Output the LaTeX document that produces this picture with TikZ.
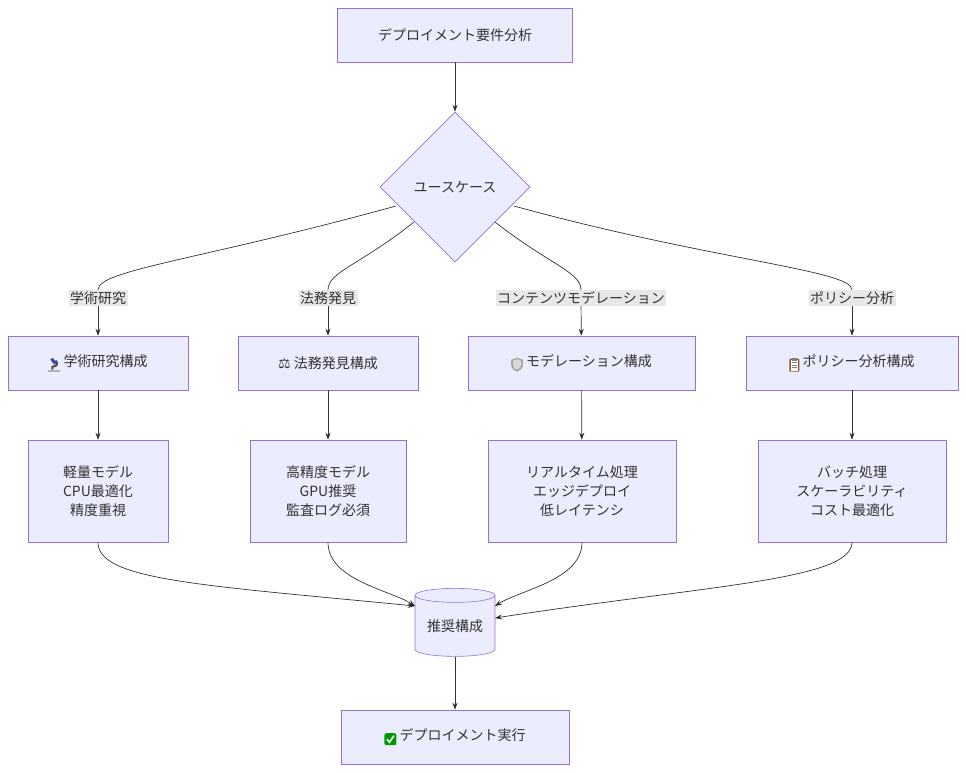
\documentclass[tikz,border=0pt]{standalone}
\usepackage{fontspec}
\setmainfont{Noto Sans CJK JP}
\newfontfamily\sym{DejaVu Sans}
\usetikzlibrary{shapes.geometric,arrows.meta}
\definecolor{nf}{HTML}{ECECFF}
\definecolor{ns}{HTML}{9370DB}
\definecolor{tx}{HTML}{333333}
\definecolor{lb}{HTML}{E8E8E8}
\newcommand{\icheck}{\tikz[baseline=-1.5pt,x=1pt,y=1pt]{\fill[green!60!black,rounded corners=2pt] (-6,-6) rectangle (6,6);\draw[white,line width=1.6pt] (-3.5,0)--(-1,-3)--(3.5,3.5);}}
\newcommand{\iclip}{\tikz[baseline=-1.5pt,x=1pt,y=1pt]{\fill[brown!70!black,rounded corners=1pt] (-5,-7) rectangle (5,6);\fill[white] (-3.8,-5.8) rectangle (3.8,4.5);\fill[gray] (-2.5,4) rectangle (2.5,7);\foreach \y in {2,-0.5,-3}\draw[gray,line width=0.6pt] (-2.5,\y)--(2.5,\y);}}
\newcommand{\ishield}{\tikz[baseline=-1.5pt,x=1pt,y=1pt]{\fill[gray!70] (-6,5)--(0,7)--(6,5)--(6,0) .. controls (6,-4) and (2,-6) .. (0,-7) .. controls (-2,-6) and (-6,-4) .. (-6,0)--cycle;\fill[gray!30] (-4,4)--(0,5.5)--(4,4)--(4,0) .. controls (4,-3) and (1.5,-4.5) .. (0,-5) .. controls (-1.5,-4.5) and (-4,-3) .. (-4,0)--cycle;}}
\newcommand{\imicro}{\tikz[baseline=-1.5pt,x=1pt,y=1pt]{\fill[gray!60] (-6,-7) rectangle (6,-5);\draw[gray!60!black,line width=2pt] (-2,-5)--(-2,-2) .. controls (3,-2) and (4,2) .. (1,4);\draw[blue!50!gray,line width=3pt] (-3,6)--(1,1);}}
\begin{document}
\begin{tikzpicture}[x=1pt,y=-1pt,font=\fontsize{14}{19}\selectfont,
 box/.style={draw=ns,fill=nf,text=tx,minimum height=54,align=center,inner sep=0,line width=0.6pt},
 det/.style={draw=ns,fill=nf,text=tx,minimum height=102,align=center,inner sep=0,line width=0.6pt},
 lab/.style={fill=lb,text=tx,inner sep=1.5},
 arr/.style={draw=tx,-{Stealth[length=7pt,width=5pt]},line width=0.7pt}]
\useasboundingbox (0,0) rectangle (966,772);
\node[box,minimum width=235] (top) at (455,35) {デプロイメント要件分析};
\node[diamond,draw=ns,fill=nf,text=tx,minimum width=150,minimum height=150,inner sep=0,line width=0.6pt] (uc) at (455,187) {ユースケース};
\node[box,minimum width=180] (c1) at (98,363) {\imicro\ 学術研究構成};
\node[box,minimum width=180] (c2) at (328,363) {{\sym ⚖} 法務発見構成};
\node[box,minimum width=227] (c3) at (581.5,363) {\ishield\ モデレーション構成};
\node[box,minimum width=212] (c4) at (852,363) {\iclip\ ポリシー分析構成};
\node[det,minimum width=140] (d1) at (98,491) {軽量モデル\\CPU最適化\\精度重視};
\node[det,minimum width=156] (d2) at (328,491) {高精度モデル\\GPU推奨\\監査ログ必須};
\node[det,minimum width=188] (d3) at (582,491) {リアルタイム処理\\エッジデプロイ\\低レイテンシ};
\node[det,minimum width=188] (d4) at (852,491) {バッチ処理\\スケーラビリティ\\コスト最適化};
\node[cylinder,shape border rotate=90,aspect=0.25,draw=ns,fill=nf,text=tx,minimum width=80,minimum height=68,inner sep=0,line width=0.6pt] (rec) at (455,626) {推奨構成};
\node[box,minimum width=228] (fin) at (455,737) {\icheck\ デプロイメント実行};
\node[lab] (l1) at (98,298) {学術研究};
\node[lab] (l2) at (328,298) {法務発見};
\node[lab] (l3) at (581,298) {コンテンツモデレーション};
\node[lab] (l4) at (852,298) {ポリシー分析};
\draw[arr] (top) -- (uc);
\draw[line width=0.7pt,tx] (396,206) .. controls (200,260) and (98,270) .. (l1.north);
\draw[line width=0.7pt,tx] (414,222) .. controls (360,265) and (328,272) .. (l2.north);
\draw[line width=0.7pt,tx] (495,222) .. controls (550,265) and (581,272) .. (l3.north);
\draw[line width=0.7pt,tx] (514,206) .. controls (710,260) and (852,270) .. (l4.north);
\draw[arr] (l1.south) .. controls (98,318) .. (c1.north);
\draw[arr] (l2) -- (c2);
\draw[arr] (l3) -- (c3);
\draw[arr] (l4.south) .. controls (852,318) .. (c4.north);
\foreach \i in {1,...,4} \draw[arr] (c\i) -- (d\i);
\draw[arr] (d1.south) .. controls (98,580) and (200,585) .. (415,606);
\draw[arr] (d2.south) .. controls (328,580) and (390,590) .. (415,606);
\draw[arr] (d3.south) .. controls (582,580) and (520,590) .. (495,606);
\draw[arr] (d4.south) .. controls (852,580) and (710,585) .. (495,618);
\draw[arr] (rec) -- (fin);
\end{tikzpicture}
\end{document}
